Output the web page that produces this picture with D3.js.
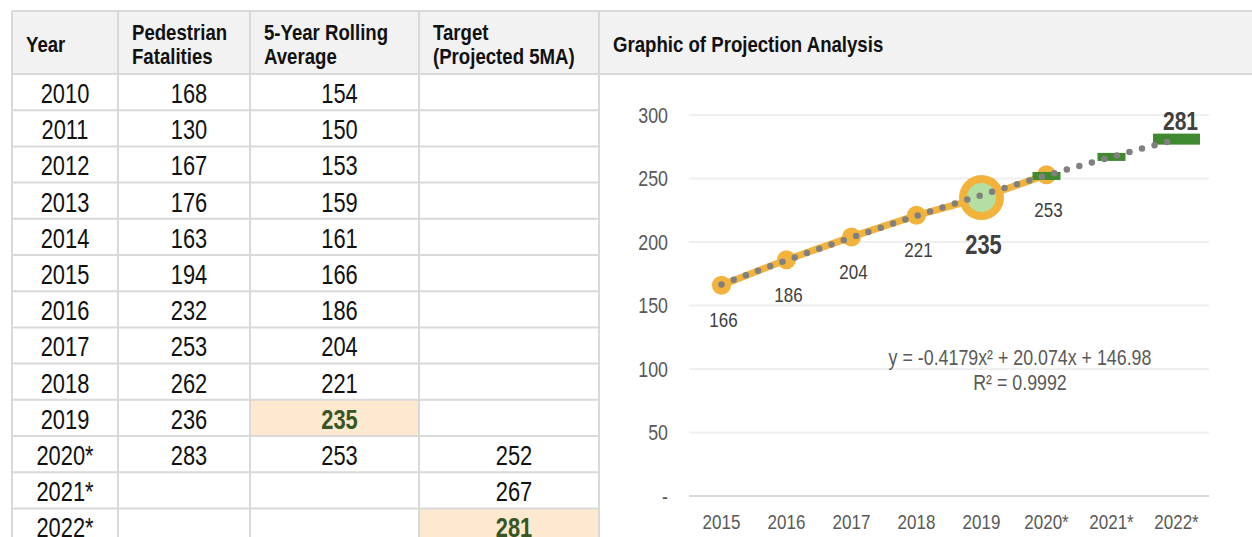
<!DOCTYPE html>
<html>
<head>
<meta charset="utf-8">
<script src="https://cdn.jsdelivr.net/npm/d3@7"></script>
<style>
  body { margin: 0; background: #fff; }
  svg { display: block; font-family: "Liberation Sans Narrow", "Arial Narrow", "Liberation Sans", Arial, sans-serif; }
</style>
</head>
<body>
<svg id="chart" width="1252" height="537"></svg>
<script>
// table data
var years = ["2010", "2011", "2012", "2013", "2014", "2015", "2016", "2017", "2018", "2019", "2020*", "2021*", "2022*"];
var fatalities = [168, 130, 167, 176, 163, 194, 232, 253, 262, 236, 283, null, null];
var rollingAvg = [154, 150, 153, 159, 161, 166, 186, 204, 221, 235, 253, null, null];
var target = [null, null, null, null, null, null, null, null, null, null, 252, 267, 281];
var headers = [["Year"], ["Pedestrian", "Fatalities"], ["5-Year Rolling", "Average"], ["Target", "(Projected 5MA)"], ["Graphic of Projection Analysis"]];

// chart data
var chartYears = ["2015", "2016", "2017", "2018", "2019", "2020*", "2021*", "2022*"];
var chartAvg = [166, 186, 204, 221, 235, 253];
var chartTarget = [{ year: "2020*", value: 252 }, { year: "2021*", value: 267 }, { year: "2022*", value: 281 }];
var trendValues = [166.6, 185.5, 203.4, 220.6, 236.9, 252.4, 267.0, 280.8];
var yTicks = [0, 50, 100, 150, 200, 250, 300];
var equationText = ["y = -0.4179x² + 20.074x + 146.98", "R² = 0.9992"];

var svg = d3.select("#chart");
var borderColor = "#d9d9d9";
var narrow = 0.81; // no narrow font installed, squeeze text horizontally

// ---- table ----
var colEdges = [12, 118, 250, 419, 599, 1260];
var headTop = 11, headBottom = 74, rowH = 36.2;
var rowY = d3.scaleBand().domain(years).range([headBottom, headBottom + years.length * rowH]);

svg.append("rect")
    .attr("x", colEdges[0]).attr("y", headTop)
    .attr("width", 1260 - colEdges[0]).attr("height", headBottom - headTop)
    .attr("fill", "#f2f2f2");

// highlighted cells
var highlights = [{ col: 2, year: "2019" }, { col: 3, year: "2022*" }];
svg.selectAll(".hl").data(highlights).enter().append("rect")
    .attr("x", d => colEdges[d.col]).attr("y", d => rowY(d.year))
    .attr("width", d => colEdges[d.col + 1] - colEdges[d.col]).attr("height", rowH)
    .attr("fill", "#fce9cf");

// header texts, one text per line
headers.forEach(function (lines, i) {
    lines.forEach(function (l, j) {
        svg.append("text")
            .attr("x", colEdges[i] + 14)
            .attr("y", lines.length === 1 ? 52 : 40 + j * 24)
            .attr("font-size", 23).attr("font-weight", "bold").attr("fill", "#111")
            .text(l);
    });
});

function isHighlight(c, y) {
    return highlights.some(h => h.col === c && h.year === y);
}

// body cells
var cols = [years, fatalities, rollingAvg, target];
cols.forEach(function (vals, c) {
    svg.selectAll(".c" + c).data(vals).enter().append("text")
        .attr("x", (colEdges[c] + colEdges[c + 1]) / 2 + (c === 0 ? 0 : 5))
        .attr("y", (d, i) => rowY(years[i]) + 29)
        .attr("text-anchor", "middle")
        .attr("font-size", 27)
        .attr("font-weight", (d, i) => isHighlight(c, years[i]) ? "bold" : null)
        .attr("fill", (d, i) => isHighlight(c, years[i]) ? "#375623" : "#111")
        .text(d => d == null ? "" : d);
});

// grid lines of table
var gridG = svg.append("g").attr("stroke", borderColor).attr("stroke-width", 2);
gridG.append("line").attr("x1", colEdges[0]).attr("x2", 1260).attr("y1", headTop).attr("y2", headTop);
gridG.append("line").attr("x1", colEdges[0]).attr("x2", 1260).attr("y1", headBottom).attr("y2", headBottom);
gridG.selectAll(".rl").data(years.slice(1)).enter().append("line")
    .attr("x1", colEdges[0]).attr("x2", colEdges[4])
    .attr("y1", d => rowY(d)).attr("y2", d => rowY(d));
gridG.selectAll(".vl").data(colEdges.slice(0, 5)).enter().append("line")
    .attr("x1", d => d).attr("x2", d => d)
    .attr("y1", headTop).attr("y2", 540);

// ---- chart ----
var x = d3.scaleBand().domain(chartYears).range([689, 1209]);
var cx = d => x(d) + x.bandwidth() / 2;
var y = d3.scaleLinear().domain([0, 300]).range([496, 115]);

// gridlines
svg.append("g").selectAll("line").data(yTicks).enter().append("line")
    .attr("x1", 689).attr("x2", 1209)
    .attr("y1", d => y(d)).attr("y2", d => y(d))
    .attr("stroke", d => d === 0 ? "#d9d9d9" : "#efefef")
    .attr("stroke-width", 2);

var yAxis = d3.axisLeft(y).tickValues(yTicks).tickSize(0)
    .tickFormat(d => d === 0 ? "-" : d);
var yg = svg.append("g").attr("transform", "translate(668,0)").call(yAxis);
yg.select(".domain").remove();
yg.selectAll("text").attr("font-size", 22).attr("fill", "#595959")
    .attr("font-family", null).attr("x", 0);

var xAxis = d3.axisBottom(x).tickSize(0);
var xg = svg.append("g").attr("transform", "translate(0,511)").call(xAxis);
xg.select(".domain").remove();
xg.selectAll("text").attr("font-size", 21).attr("fill", "#595959").attr("font-family", null);

// rolling average line
var avgData = chartAvg.map((v, i) => ({ year: chartYears[i], value: v }));
var line = d3.line().x(d => cx(d.year)).y(d => y(d.value));
svg.append("path").datum(avgData)
    .attr("d", line)
    .attr("fill", "none").attr("stroke", "#f2b33d").attr("stroke-width", 7);

svg.selectAll(".mk").data(avgData).enter().append("circle")
    .attr("cx", d => cx(d.year)).attr("cy", d => y(d.value))
    .attr("r", d => d.year === "2019" ? 18.5 : 9.5)
    .attr("fill", d => d.year === "2019" ? "#b3dfa2" : "#f2b33d")
    .attr("stroke", "#f2b33d")
    .attr("stroke-width", d => d.year === "2019" ? 8 : 0);

// target dashes
svg.selectAll(".tg").data(chartTarget).enter().append("rect")
    .attr("x", d => cx(d.year) - (d.year === "2022*" ? 23.5 : 14))
    .attr("width", d => d.year === "2022*" ? 47 : 28)
    .attr("y", d => y(d.value) - (d.year === "2022*" ? 5.5 : 4))
    .attr("height", d => d.year === "2022*" ? 11 : 8)
    .attr("fill", "#3f8a2e");

// polynomial trendline (dotted)
var trendData = trendValues.map((v, i) => ({ year: chartYears[i], value: v }));
svg.append("path").datum(trendData)
    .attr("d", d3.line().curve(d3.curveMonotoneX).x(d => cx(d.year)).y(d => y(d.value)))
    .attr("fill", "none").attr("stroke", "#808080").attr("stroke-width", 6.5)
    .attr("stroke-linecap", "round").attr("stroke-dasharray", "0,13");

// data labels
svg.selectAll(".lb").data(avgData).enter().append("text")
    .attr("x", d => cx(d.year) + 2)
    .attr("y", d => y(d.value) + (d.year === "2019" ? 56 : 42))
    .attr("text-anchor", "middle")
    .attr("font-size", d => d.year === "2019" ? 27 : 21)
    .attr("font-weight", d => d.year === "2019" ? "bold" : null)
    .attr("fill", "#404040")
    .text(d => d.value);

var last = chartTarget[chartTarget.length - 1];
svg.append("text")
    .attr("x", cx(last.year) + 4).attr("y", y(last.value) - 9)
    .attr("text-anchor", "middle").attr("font-size", 26).attr("font-weight", "bold")
    .attr("fill", "#404040").text(last.value);

// equation
svg.selectAll(".eq").data(equationText).enter().append("text")
    .attr("x", 1020).attr("y", (d, i) => 365 + i * 25)
    .attr("text-anchor", "middle").attr("font-size", 22).attr("fill", "#595959")
    .text(d => d);

// squeeze every text around its anchor x
svg.selectAll("text").each(function () {
    var tx = +this.getAttribute("x") || 0;
    d3.select(this).attr("transform",
        "translate(" + tx + ",0) scale(" + narrow + ",1) translate(" + (-tx) + ",0)");
});
</script>
</body>
</html>
